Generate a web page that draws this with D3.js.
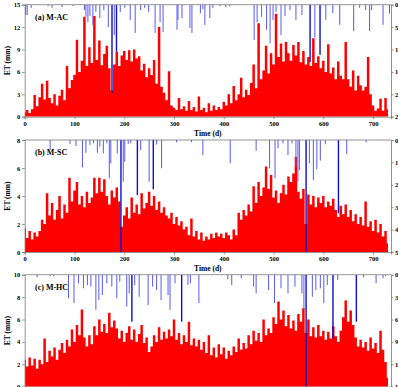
<!DOCTYPE html>
<html>
<head>
<meta charset="utf-8">
<style>
  body { margin: 0; background: #fff; }
  svg text { font-family: "Liberation Serif", "Times New Roman", serif; font-weight: bold; }
</style>
</head>
<body>
<svg id="chart" width="398" height="387"></svg>
<script src="https://cdn.jsdelivr.net/npm/d3@7/dist/d3.min.js"></script>
<script>
// ET series, one value every 5 days (day 0 .. 730)
const step = 5
const etAC = [0.6,0.9,0.5,1.0,2.9,1.4,2.6,4.4,2.3,4.8,2.5,1.8,3.0,1.5,2.8,3.6,2.2,6.8,3.8,4.9,
  5.6,10.3,6.0,7.5,13.4,6.8,9.3,7.2,13.5,7.6,10.2,6.9,8.4,9.5,6.5,3.5,7.0,8.7,6.8,8.2,
  8.8,7.6,8.9,7.4,9.0,7.8,8.1,6.2,7.1,5.3,6.5,5.6,7.6,4.4,12.0,4.0,3.2,2.2,6.1,1.5,
  1.2,0.9,2.5,1.0,1.4,0.8,2.1,0.9,1.3,0.7,2.7,0.9,1.2,0.6,1.8,0.8,1.5,0.9,1.3,1.0,
  2.0,1.5,3.0,1.8,4.1,2.2,3.0,5.2,2.6,3.6,2.9,4.5,7.0,3.8,12.5,5.0,6.2,9.5,5.8,8.5,
  7.0,13.8,8.0,9.8,7.4,10.0,8.5,7.5,9.6,8.2,10.0,7.3,8.8,7.0,8.0,6.8,10.5,7.2,8.1,6.5,
  7.5,6.0,9.7,5.8,6.6,5.0,7.4,5.5,5.0,10.0,5.0,4.0,6.2,3.5,5.5,4.2,3.5,4.0,8.0,3.0,
  1.5,0.8,1.1,2.4,0.8,2.5,1.0]
const etSC = [1.7,1.0,1.5,0.9,1.4,1.1,1.5,2.3,2.0,4.2,2.6,3.5,2.3,3.0,4.0,2.4,3.4,2.8,5.3,3.6,
  4.4,5.0,3.4,4.0,3.2,4.3,3.5,3.9,5.3,4.2,5.3,4.3,5.2,4.0,3.4,4.4,3.9,4.6,3.6,1.8,
  2.6,3.2,2.4,3.9,2.8,3.4,2.7,4.2,3.1,3.5,4.3,3.3,4.0,3.0,3.6,2.8,3.2,2.6,2.4,2.8,
  2.0,2.5,1.9,2.2,1.6,1.8,1.2,2.4,1.1,1.5,0.9,1.4,0.8,1.1,0.9,1.3,1.0,1.4,1.1,1.3,
  1.0,1.4,1.2,0.9,1.6,1.2,2.8,2.3,3.0,2.6,3.4,2.9,4.7,3.5,5.0,4.0,4.6,6.1,4.5,5.5,
  3.9,4.4,3.5,4.2,4.8,4.1,5.4,5.0,5.6,6.8,4.3,3.8,4.5,2.0,4.1,3.4,4.0,3.2,3.9,3.5,
  4.0,3.2,3.6,3.3,3.8,3.0,2.5,3.3,2.7,3.4,2.5,3.0,2.2,2.7,2.0,2.5,1.9,3.6,1.8,2.2,
  1.5,2.3,1.4,2.0,1.1,1.5,0.6]
const etHC = [2.4,1.8,2.6,1.9,2.5,1.6,2.4,2.0,4.3,2.2,3.2,2.7,3.5,2.4,3.3,3.9,3.0,4.2,3.6,5.1,
  4.0,5.5,4.6,6.9,4.4,3.6,4.6,3.8,5.4,4.6,6.0,4.9,5.6,4.8,6.6,5.3,5.9,5.2,4.3,5.0,
  4.0,4.8,5.4,4.2,5.1,4.0,4.7,5.5,3.9,4.4,3.1,3.6,4.6,4.0,5.3,4.2,4.9,4.3,5.1,4.5,
  6.0,4.2,4.8,3.8,4.6,4.0,5.8,3.7,4.3,3.6,4.2,3.3,4.0,3.0,4.6,2.8,3.5,2.6,3.8,2.9,
  3.5,2.5,3.2,2.8,3.6,3.1,4.3,3.3,3.9,3.4,4.6,3.8,5.0,4.1,4.8,4.0,6.0,4.6,5.2,4.8,
  6.2,5.6,7.6,6.0,6.8,5.4,6.4,5.2,5.9,5.0,6.5,5.8,7.0,4.8,6.0,4.5,5.3,4.4,5.5,4.5,
  5.0,4.2,4.9,4.3,5.4,4.5,4.0,5.0,6.2,7.7,5.8,6.8,5.5,4.4,3.6,4.2,3.5,4.0,3.2,4.4,
  3.4,3.9,3.0,5.0,3.3,2.2,0.8]

// rain events [day, mm]
const rainAC = [[2,2.3],[5,2.3],[13,0.7],[47,0.3],[55,0.7],[75,0.5],[97,0.3],[120,1.2],[123,2.7],[127,3.9],
  [131,2.5],[137,4.5],[143,1.6],[151,3.0],[159,1.2],[168,5.0],[175,19.7],[180,6.8],[184,10.5],[192,1.6],
  [201,0.7],[212,3.4],[222,6.3],[233,1.2],[241,0.7],[249,1.6],[262,6.3],[272,3.9],[278,6.1],[306,5.6],
  [308,3.4],[316,3.0],[332,5.2],[336,6.3],[353,1.9],[358,1.0],[362,4.5],[372,3.0],[378,0.7],[392,0.3],
  [404,0.5],[412,0.3],[461,7.9],[467,3.9],[476,2.7],[486,5.6],[493,8.6],[499,3.4],[505,1.6],[515,6.8],
  [523,2.5],[533,1.2],[545,3.4],[557,2.3],[573,12.8],[583,7.4],[593,11.2],[605,3.4],[619,1.9],[633,4.5],
  [661,5.9],[673,0.7],[685,1.2],[693,5.9],[697,1.2],[720,4.5],[733,2.0]]
const rainSC = [[51,4.5],[91,1.8],[103,2.7],[116,12.2],[123,5.7],[131,2.2],[138,1.5],[146,5.7],[151,3.0],[158,6.0],
  [165,1.5],[170,17.1],[173,10.4],[186,6.0],[193,60],[198,18.6],[201,9.7],[208,1.8],[213,1.5],[226,24.6],
  [233,4.5],[250,18.6],[258,22.0],[265,2.0],[275,12.6],[305,1.0],[335,1.0],[358,6.7],[413,10.4],[465,4.8],
  [492,12.6],[503,17.1],[509,3.7],[519,1.5],[529,6.7],[537,1.5],[545,11.9],[549,18.6],[552,13.4],[565,60],
  [572,10.4],[580,17.9],[587,13.1],[594,9.2],[604,1.9],[630,32.7],[647,6.3],[686,1.0]]
const rainHC = [[25,3.6],[51,2.0],[58,2.0],[88,31.6],[99,38.0],[108,11.5],[118,18.2],[126,13.8],[133,16.0],[143,47.0],
  [149,33.9],[156,27.2],[165,11.5],[175,16.0],[185,31.6],[191,9.4],[205,42.8],[210,25.0],[215,63.0],[221,13.8],
  [230,29.5],[248,40.6],[257,16.0],[265,20.5],[274,33.9],[288,27.2],[292,47.0],[302,11.5],[315,63.0],[328,13.8],
  [333,11.5],[350,38.0],[408,6.2],[416,13.8],[435,4.8],[460,16.0],[465,25.0],[490,20.5],[502,38.0],[515,18.2],
  [529,25.0],[543,16.0],[557,25.0],[561,47.0],[565,170],[578,29.5],[585,20.5],[594,18.2],[601,38.0],[608,13.8],
  [619,85.0],[629,7.0],[666,63.0],[681,3.6],[706,11.5],[720,4.8],[725,2.0]]

const xTicks = [0,100,200,300,400,500,600,700]

const panels = [
  {label: '(a) M-AC', et: etAC, rain: rainAC, etMax: 15, etTicks: [0,3,6,9,12,15], rainMax: 25, rainTicks: [0,5,10,15,20,25], top: 4.7},
  {label: '(b) M-SC', et: etSC, rain: rainSC, etMax: 8, etTicks: [0,2,4,6,8], rainMax: 50, rainTicks: [0,10,20,30,40,50], top: 140},
  {label: '(c) M-HC', et: etHC, rain: rainHC, etMax: 10, etTicks: [0,2,4,6,8,10], rainMax: 150, rainTicks: [0,30,60,90,120,150], top: 274.7}
]

const svg = d3.select('#chart')
const left = 24.7, right = 391, ph = 112
const x = d3.scaleLinear().domain([0, 736]).range([left, right])

panels.forEach((p, k) => {
  const y = d3.scaleLinear().domain([0, p.etMax]).range([p.top + ph, p.top])
  const yr = d3.scaleLinear().domain([0, p.rainMax]).range([p.top, p.top + ph])

  svg.append('clipPath').attr('id', 'clip' + k)
    .append('rect').attr('x', left).attr('y', p.top).attr('width', right - left).attr('height', ph)

  const g = svg.append('g').attr('clip-path', `url(#clip${k})`)

  // ET as a stepped filled area (one step per value)
  const area = d3.area()
    .x((d, i) => x(i * step))
    .y0(y(0))
    .y1(d => y(d))
    .curve(d3.curveStep)
  g.append('path').datum(p.et).attr('d', area).attr('fill', '#ff0000')

  // rain bars hanging from the top
  g.selectAll('.rain').data(p.rain).enter().append('rect')
    .attr('x', d => x(d[0]) - 0.5)
    .attr('y', p.top)
    .attr('width', d => d[1] > p.rainMax * 0.4 ? 1.4 : 1)
    .attr('height', d => Math.min(yr(d[1]), p.top + ph) - p.top)
    .attr('fill', d => d[1] > p.rainMax * 0.4 ? '#1010c8' : '#5a5af0')

  // axes
  const axX = svg.append('g').attr('transform', `translate(0,${p.top + ph})`)
    .call(d3.axisBottom(x).tickValues(xTicks).tickSize(2.5).tickPadding(2))
  const axL = svg.append('g').attr('transform', `translate(${left},0)`)
    .call(d3.axisLeft(y).tickValues(p.etTicks).tickSize(2.5).tickPadding(2))
  const axR = svg.append('g').attr('transform', `translate(${right},0)`)
    .call(d3.axisRight(yr).tickValues(p.rainTicks).tickSize(2.5).tickPadding(1.5))
  svg.append('line').attr('x1', left).attr('x2', right).attr('y1', p.top).attr('y2', p.top)
    .attr('stroke', '#777').attr('stroke-width', 0.8)

  ;[axX, axL, axR].forEach(a => {
    a.selectAll('path').attr('stroke', '#777').attr('stroke-width', 0.8)
    a.selectAll('line').attr('stroke', '#777').attr('stroke-width', 0.8)
    a.selectAll('text').attr('font-size', 6.5).attr('fill', '#000')
      .attr('font-family', 'Liberation Serif').attr('font-weight', 'bold')
  })

  svg.append('text').attr('x', 35).attr('y', p.top + 15)
    .attr('font-size', 8).attr('fill', '#000').text(p.label)

  svg.append('text')
    .attr('transform', `translate(10,${p.top + ph / 2}) rotate(-90)`)
    .attr('text-anchor', 'middle').attr('font-size', 7.5).attr('fill', '#000')
    .text('ET (mm)')

  svg.append('text').attr('x', (left + right) / 2).attr('y', p.top + ph + 19)
    .attr('text-anchor', 'middle').attr('font-size', 7.5).attr('fill', '#000')
    .text('Time (d)')
})
</script>
</body>
</html>
